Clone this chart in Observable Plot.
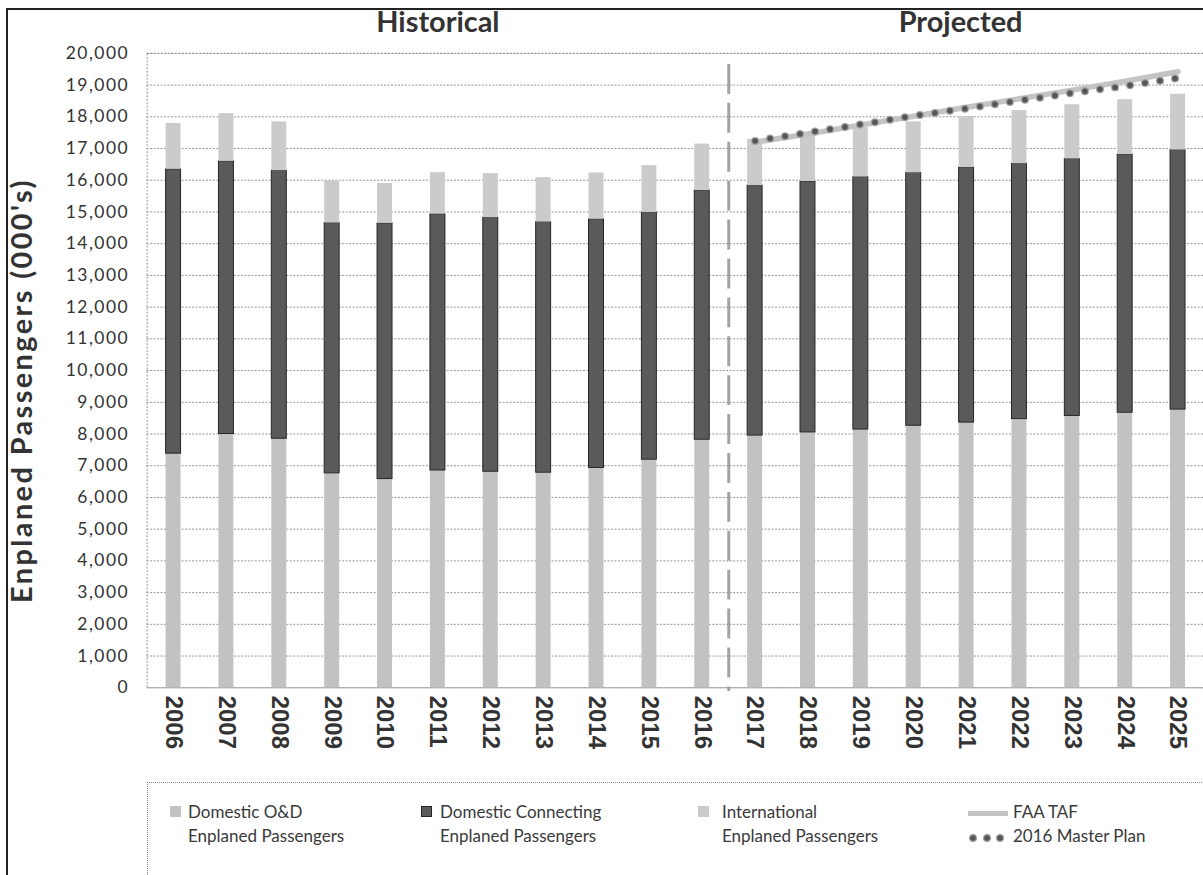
<!DOCTYPE html>
<html>
<head>
<meta charset="utf-8">
<script src="https://cdn.jsdelivr.net/npm/d3@7"></script>
<script src="https://cdn.jsdelivr.net/npm/@observablehq/plot@0.6"></script>
<style>
  body { margin: 0; background: #fff; }
  #wrap { position: relative; width: 1203px; height: 875px; overflow: hidden; font-family: Lato, sans-serif; background: #fff; }
  #chart { position: absolute; left: 0; top: 0; }
  .frame-left { position: absolute; left: 6px; top: 8px; width: 2px; height: 870px; background: #222; }
  .frame-top { position: absolute; left: 6px; top: 8px; width: 1200px; height: 2px; background: #222; }
  #legendBox { position: absolute; left: 147px; top: 782px; width: 1070px; height: 120px;
    border-top: 1px dotted #888; border-left: 1px dotted #888; }
  .lg-text { position: absolute; font-family: Lato, sans-serif; font-size: 17px; line-height: 24px; color: #3a3a3a; white-space: nowrap; }
  .lg-sq { position: absolute; width: 11px; height: 11px; }
</style>
</head>
<body>
<div id="wrap">
  <div id="chart"></div>
  <div class="frame-left"></div>
  <div class="frame-top"></div>
  <div id="legendBox"></div>
  <div id="legend"></div>
</div>
<script>
// ---- data (thousands of enplaned passengers) ----
const years = ["2006","2007","2008","2009","2010","2011","2012","2013","2014","2015",
               "2016","2017","2018","2019","2020","2021","2022","2023","2024","2025"];
const domesticOD = [7380, 8000, 7850, 6760, 6580, 6850, 6810, 6780, 6930, 7190,
                    7820, 7950, 8050, 8140, 8260, 8360, 8470, 8570, 8670, 8770];
const domesticConnecting = [8965, 8595, 8450, 7890, 8060, 8080, 8010, 7900, 7840, 7790,
                            7855, 7880, 7910, 7960, 7970, 8040, 8050, 8100, 8140, 8180];
const international = [1445, 1505, 1540, 1320, 1260, 1310, 1390, 1400, 1460, 1480,
                       1465, 1460, 1510, 1560, 1610, 1605, 1680, 1710, 1730, 1760];
const projYears = ["2017","2018","2019","2020","2021","2022","2023","2024","2025"];
const faaTaf     = [17200, 17460, 17740, 18020, 18300, 18570, 18840, 19120, 19420];
const masterPlan = [17240, 17500, 17760, 18030, 18260, 18510, 18750, 18970, 19220];
const yTicks = d3.range(0, 20001, 1000);
const historicalLabel = ["Historical"], historicalYear = ["2011"];
const projectedLabel = ["Projected"], projectedYear = ["2021"];
const yTitle = ["Enplaned Passengers (000's)"];
const dividerYear = ["2016"];
const dividerSpan = [19650, -120];
const seriesKeys = ["od", "conn", "intl"];
const seriesLabels = ["Domestic O&D\nEnplaned Passengers", "Domestic Connecting\nEnplaned Passengers", "International\nEnplaned Passengers"];
const seriesColors = ["#c2c2c2", "#5a5a5a", "#cbcbcb"];

// ---- build tables ----
const rows = [];
years.forEach((yr, i) => {
  rows.push({year: yr, series: "od", value: domesticOD[i]});
  rows.push({year: yr, series: "conn", value: domesticConnecting[i]});
  rows.push({year: yr, series: "intl", value: international[i]});
});
const lineRows = projYears.map((yr, i) => ({year: yr, taf: faaTaf[i], mp: masterPlan[i]}));

const W = 1206, H = 780, ML = 147, MR = 0, MT = 53, MB = 91;
const padInner = 0.72, padOuter = 0.325;
const step = (W - ML - MR) / (years.length - padInner + 2 * padOuter);

const titleStyle = {fontWeight: "bold", fontFamily: "Lato", fill: "#333"};
const chart = Plot.plot({
  width: W, height: H,
  marginLeft: ML, marginRight: MR, marginTop: MT, marginBottom: MB,
  style: {color: "#333", background: "transparent", overflow: "visible"},
  x: {domain: years, paddingInner: padInner, paddingOuter: padOuter, axis: null, label: null},
  y: {domain: [0, 20000], axis: null, label: null},
  color: {domain: seriesKeys, range: seriesColors},
  opacity: {type: "identity"},
  marks: [
    Plot.gridY(yTicks, {stroke: "#959595", strokeOpacity: 1, strokeDasharray: "2,1.5"}),
    Plot.frame({stroke: "#959595", strokeDasharray: "2,1.5"}),
    Plot.barY(rows, Plot.stackY({
      x: "year", y: "value", z: "series", fill: "series",
      stroke: "#262626", strokeOpacity: d => d.series === "conn" ? 1 : 0
    })),
    Plot.ruleX(dividerYear, {dx: step / 2, y1: dividerSpan[0], y2: dividerSpan[1],
      stroke: "#a3a3a3", strokeWidth: 3, strokeDasharray: "30,9"}),
    Plot.line(lineRows, {x: "year", y: "taf", stroke: "#c4c4c4", strokeWidth: 5.5}),
    Plot.line(lineRows, {x: "year", y: "mp", stroke: "#a0a0a0", strokeWidth: 8,
      strokeDasharray: "0,15.2", strokeLinecap: "round"}),
    Plot.line(lineRows, {x: "year", y: "mp", stroke: "#555", strokeWidth: 5.5,
      strokeDasharray: "0,15.2", strokeLinecap: "round"}),
    Plot.axisY(yTicks, {tickSize: 0, tickPadding: 18, tickFormat: d3.format(","),
      fontSize: 17.5, fontFamily: "Lato", label: null}),
    Plot.axisX({tickRotate: 90, tickSize: 0, tickPadding: 8, fontSize: 24,
      fontWeight: "bold", fontFamily: "Liberation Sans", label: null}),
    Plot.text(historicalLabel, {x: historicalYear, frameAnchor: "top", lineAnchor: "middle", dy: -31,
      fontSize: 29, ...titleStyle}),
    Plot.text(projectedLabel, {x: projectedYear, frameAnchor: "top", lineAnchor: "middle", dy: -31, dx: -6,
      fontSize: 29, ...titleStyle}),
    Plot.text(yTitle, {frameAnchor: "left", textAnchor: "middle", rotate: -90, dx: -125, dy: 20,
      fontSize: 29, ...titleStyle})
  ]
});
document.getElementById("chart").appendChild(chart);
d3.select(chart).selectAll("[aria-label='y-axis tick label'] text").attr("letter-spacing", 1.5);
d3.select(chart).selectAll("text").filter(function() { return this.textContent === yTitle[0]; })
  .attr("letter-spacing", 2.4);

// ---- legend ----
const legend = document.getElementById("legend");
const sqX = [170, 421, 698];
const txX = [188, 440, 722];
seriesKeys.forEach((k, i) => {
  const sq = document.createElement("div");
  sq.className = "lg-sq";
  sq.style.left = sqX[i] + "px"; sq.style.top = "806px";
  sq.style.background = seriesColors[i];
  if (k === "conn") { sq.style.boxSizing = "border-box"; sq.style.border = "1px solid #262626"; }
  legend.appendChild(sq);
  const [l1, l2] = seriesLabels[i].split("\n");
  const t = document.createElement("div");
  t.className = "lg-text";
  t.style.left = txX[i] + "px"; t.style.top = "800px";
  t.appendChild(document.createTextNode(l1));
  t.appendChild(document.createElement("br"));
  t.appendChild(document.createTextNode(l2));
  legend.appendChild(t);
});
// FAA TAF swatch
const sw = document.createElement("div");
sw.style.cssText = "position:absolute;left:968px;top:811px;width:40px;height:5px;background:#c4c4c4;";
legend.appendChild(sw);
const t1 = document.createElement("div");
t1.className = "lg-text"; t1.style.left = "1013px"; t1.style.top = "800px"; t1.textContent = "FAA TAF";
legend.appendChild(t1);
// Master plan dots
const ns = "http://www.w3.org/2000/svg";
const ds = document.createElementNS(ns, "svg");
ds.setAttribute("width", "40"); ds.setAttribute("height", "12");
ds.style.cssText = "position:absolute;left:966px;top:832px;";
[7, 21, 34].forEach(cx => {
  const c = document.createElementNS(ns, "circle");
  c.setAttribute("cx", cx); c.setAttribute("cy", 6); c.setAttribute("r", 3.4);
  c.setAttribute("fill", "#555"); c.setAttribute("stroke", "#a0a0a0"); c.setAttribute("stroke-width", 1.2);
  ds.appendChild(c);
});
legend.appendChild(ds);
const t2 = document.createElement("div");
t2.className = "lg-text"; t2.style.left = "1013px"; t2.style.top = "824px"; t2.textContent = "2016 Master Plan";
legend.appendChild(t2);
</script>
</body>
</html>
